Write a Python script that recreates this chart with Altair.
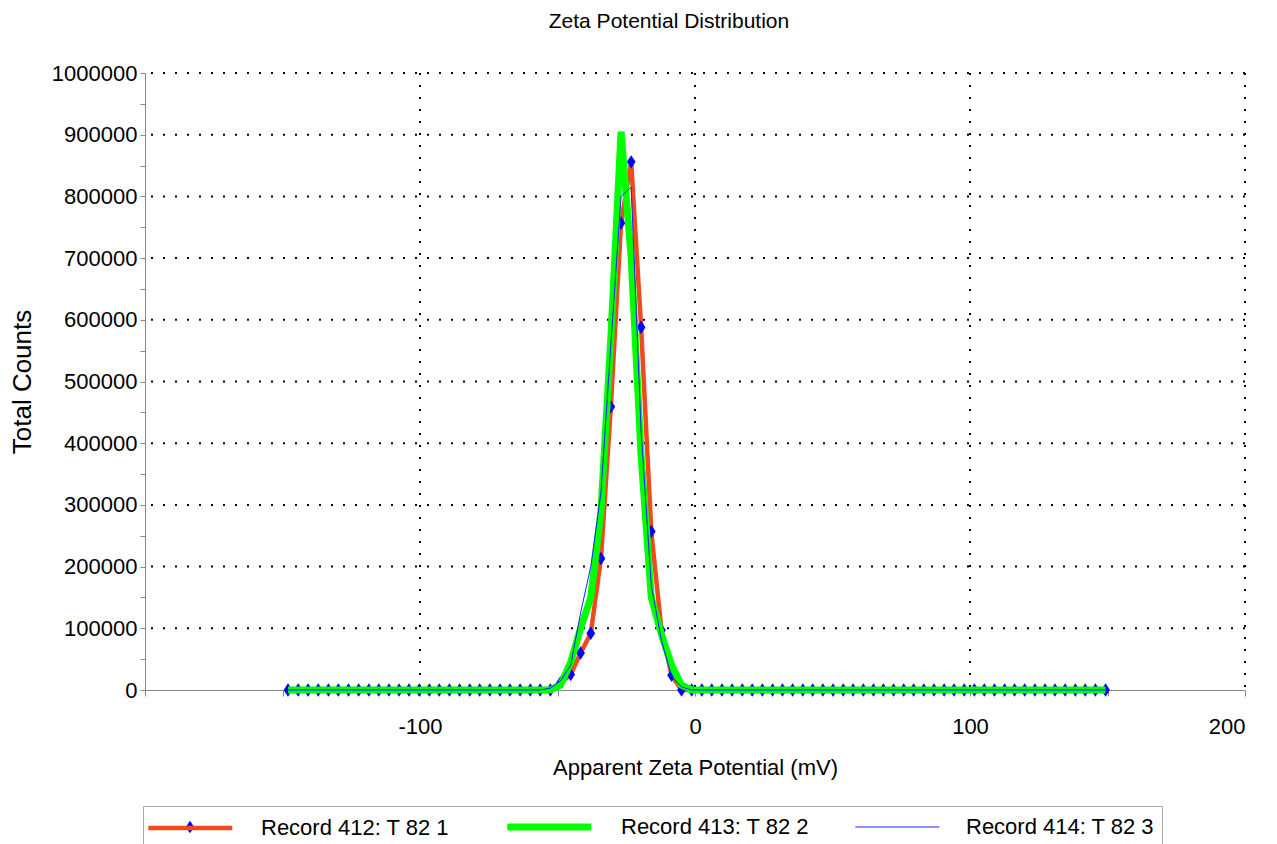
import altair as alt
import pandas as pd

# shared x grid of the measurement (mV)
x_mv = [-148.0, -144.3, -140.7, -137.0, -133.3, -129.7, -126.0, -122.3, -118.6, -115.0,
        -111.3, -107.6, -104.0, -100.3, -96.6, -93.0, -89.3, -85.6, -81.9, -78.3,
        -74.6, -70.9, -67.3, -63.6, -59.9, -56.3, -52.6, -48.9, -45.2, -41.6,
        -37.9, -34.2, -30.6, -26.9, -23.2, -19.6, -15.9, -12.2, -8.5, -4.9,
        -1.2, 2.5, 6.1, 9.8, 13.5, 17.2, 20.8, 24.5, 28.2, 31.8,
        35.5, 39.2, 42.8, 46.5, 50.2, 53.9, 57.5, 61.2, 64.9, 68.5,
        72.2, 75.9, 79.5, 83.2, 86.9, 90.6, 94.2, 97.9, 101.6, 105.2,
        108.9, 112.6, 116.2, 119.9, 123.6, 127.3, 130.9, 134.6, 138.3, 141.9,
        145.6, 149.3]

rec412 = [0] * 25 + [0, 0, 12000, 25000, 60000, 92000, 213000, 459000, 757000, 856000,
                     588000, 257000, 97000, 24000, 0, 0] + [0] * 41
rec413 = [0] * 25 + [0, 0, 8000, 45000, 100000, 150000, 290000, 570000, 905000, 700000,
                     380000, 150000, 90000, 40000, 8000, 0] + [0] * 41
rec414 = [0] * 25 + [0, 3000, 15000, 40000, 125000, 200000, 320000, 560000, 800000, 815000,
                     420000, 170000, 80000, 22000, 5000, 0] + [0] * 41

series_names = ["Record 412: T 82 1", "Record 413: T 82 2", "Record 414: T 82 3"]
series_colors = ["#EE4A1E", "#00FF00", "#2020FF"]
series_widths = [4.5, 7, 1]

y_ticks = [i * 50000 for i in range(21)]
x_ticks = [-200, -150, -100, -50, 0, 50, 100, 150, 200]
grid_y = [100000, 200000, 300000, 400000, 500000, 600000, 700000, 800000, 900000, 1000000]
grid_x = [-100, 0, 100, 200]

FONT = "Liberation Sans"
DIAMOND = "M0,-1L0.65,0L0,1L-0.65,0Z"

def frame(name, ys):
    return pd.DataFrame({"series": name, "x": x_mv, "y": ys})

d412 = frame(series_names[0], rec412)
d413 = frame(series_names[1], rec413)
d414 = frame(series_names[2], rec414)

xscale = alt.Scale(domain=[-200, 200], nice=False, zero=False)
yscale = alt.Scale(domain=[0, 1000000], nice=False)

xaxis = alt.Axis(values=x_ticks, title="Apparent Zeta Potential (mV)",
                 labelExpr="(datum.value == -100 || datum.value == 0 || datum.value == 100 || datum.value == 200) ? ('' + datum.value) : ''",
                 tickSize=6, labelPadding=20, titlePadding=20, grid=False)
yaxis = alt.Axis(values=y_ticks, title="Total Counts", format="d",
                 labelExpr="datum.value % 100000 == 0 ? datum.label : ''",
                 tickSize=5, labelPadding=3, titlePadding=16, titleFontSize=26, grid=False)

color_scale = alt.Scale(domain=series_names, range=series_colors)
width_scale = alt.Scale(type="ordinal", domain=series_names, range=series_widths)

legend = alt.Legend(orient="none", legendX=-2, legendY=733, direction="horizontal",
                    title=None, symbolType="M-1.4,0H6.6", symbolSize=441,
                    labelFontSize=22, labelFont=FONT, labelColor="black", labelLimit=400,
                    labelOffset=85, columnPadding=43, padding=7,
                    strokeColor="#aaaaaa")

gx_df = pd.DataFrame({"gx": grid_x})
gy_df = pd.DataFrame({"gy": grid_y})

grid_h = alt.Chart(gy_df).mark_rule(color="black", strokeWidth=2, strokeDash=[2, 10]).encode(
    y=alt.Y("gy:Q", scale=yscale, axis=yaxis))
grid_v = alt.Chart(gx_df).mark_rule(color="black", strokeWidth=2, strokeDash=[2, 10]).encode(
    x=alt.X("gx:Q", scale=xscale, axis=xaxis))

def line_layer(df, leg):
    return alt.Chart(df).mark_line(clip=False).encode(
        x=alt.X("x:Q", scale=xscale, axis=xaxis),
        y=alt.Y("y:Q", scale=yscale, axis=yaxis),
        color=alt.Color("series:N", scale=color_scale, legend=leg),
        strokeWidth=alt.StrokeWidth("series:N", scale=width_scale, legend=leg),
    )

red = line_layer(d412, legend)
markers = alt.Chart(d412).mark_point(shape=DIAMOND, filled=True, color="#0000FF",
                                     size=180, opacity=1, strokeWidth=0).encode(
    x=alt.X("x:Q", scale=xscale, axis=xaxis),
    y=alt.Y("y:Q", scale=yscale, axis=yaxis),
)
green = line_layer(d413, legend)
blue = line_layer(d414, legend)

legend_diamond = alt.Chart(pd.DataFrame({"k": [series_names[0]]})).mark_point(
    shape=DIAMOND, filled=True, color="#0000FF", size=160, opacity=1, strokeWidth=0).encode(
    x=alt.value(45), y=alt.value(754))

chart = alt.layer(grid_h, grid_v, red, markers, green, blue, legend_diamond).properties(
    width=1100, height=617,
    title=alt.TitleParams("Zeta Potential Distribution", font=FONT, fontSize=21,
                          fontWeight="normal", color="black", offset=30, dx=-26),
    autosize=alt.AutoSizeParams(type="none"),
    padding={"left": 145, "top": 73, "right": 32, "bottom": 154},
).configure_view(stroke=None).configure_axis(
    domainColor="#888888", tickColor="#888888", labelColor="black", titleColor="black",
    labelFont=FONT, titleFont=FONT, labelFontSize=22, titleFontSize=22,
    titleFontWeight="normal",
)

chart.save("out.html", embed_options={"renderer": "svg", "actions": False})
